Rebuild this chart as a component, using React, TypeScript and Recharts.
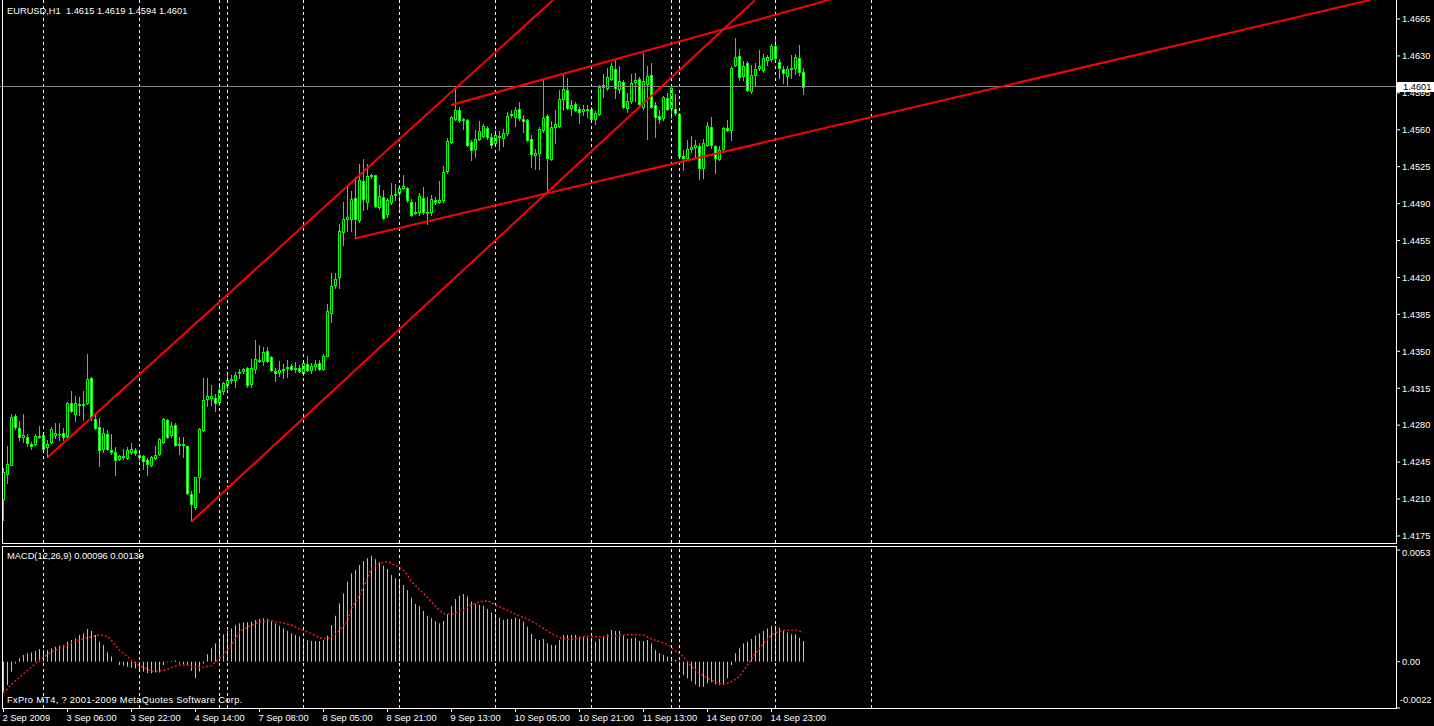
import { ComposedChart, Bar, Line, XAxis, YAxis, ReferenceLine } from "recharts";

// EURUSD H1, 2 Sep 2009 14:00 .. 15 Sep 2009, prices in pips (1.4210 -> 14210)
const OPEN_PIPS = [
  14210, 14234, 14242, 14289, 14277, 14269, 14269, 14262, 14262, 14270,
  14271, 14259, 14264, 14271, 14272, 14273, 14270, 14301, 14291, 14300,
  14299, 14301, 14325, 14286, 14278, 14257, 14272, 14256, 14255, 14248,
  14250, 14249, 14255, 14256, 14252, 14251, 14247, 14242, 14249, 14253,
  14264, 14285, 14271, 14280, 14261, 14262, 14260, 14215, 14202, 14231,
  14275, 14305, 14306, 14306, 14302, 14312, 14318, 14323, 14323, 14329,
  14331, 14334, 14319, 14333, 14342, 14341, 14350, 14345, 14331, 14330,
  14332, 14334, 14336, 14333, 14334, 14329, 14338, 14332, 14336, 14339,
  14333, 14346, 14386, 14413, 14420, 14463, 14475, 14475, 14495, 14474,
  14511, 14492, 14516, 14517, 14487, 14496, 14480, 14492, 14498, 14500,
  14505, 14505, 14492, 14481, 14482, 14495, 14482, 14482, 14493, 14492,
  14493, 14521, 14548, 14570, 14579, 14569, 14569, 14548, 14542, 14551,
  14554, 14562, 14553, 14547, 14554, 14552, 14557, 14574, 14572, 14580,
  14570, 14569, 14551, 14536, 14538, 14560, 14573, 14532, 14563, 14564,
  14589, 14598, 14581, 14584, 14580, 14578, 14580, 14580, 14570, 14575,
  14601, 14600, 14608, 14618, 14599, 14605, 14581, 14587, 14605, 14608,
  14582, 14603, 14612, 14583, 14573, 14571, 14590, 14581, 14580, 14575,
  14535, 14533, 14542, 14544, 14545, 14524, 14546, 14563, 14545, 14532,
  14542, 14562, 14560, 14621, 14630, 14611, 14623, 14597, 14612, 14619,
  14617, 14626, 14627, 14639, 14624, 14618, 14611, 14618, 14619, 14628,
  14615,
];
const HIGH_PIPS = [
  14239, 14260, 14291, 14291, 14284, 14291, 14272, 14264, 14272, 14279,
  14272, 14266, 14278, 14282, 14282, 14277, 14302, 14312, 14308, 14307,
  14312, 14347, 14326, 14291, 14287, 14277, 14275, 14272, 14259, 14252,
  14257, 14259, 14263, 14258, 14254, 14252, 14249, 14251, 14260, 14268,
  14287, 14286, 14283, 14282, 14269, 14269, 14260, 14218, 14231, 14277,
  14325, 14325, 14318, 14310, 14320, 14321, 14329, 14328, 14330, 14333,
  14334, 14335, 14343, 14361, 14356, 14354, 14354, 14346, 14334, 14341,
  14338, 14342, 14338, 14340, 14337, 14339, 14346, 14339, 14342, 14342,
  14347, 14395, 14424, 14424, 14471, 14492, 14506, 14502, 14515, 14528,
  14532, 14528, 14518, 14517, 14508, 14503, 14495, 14510, 14509, 14508,
  14517, 14506, 14494, 14492, 14500, 14506, 14496, 14498, 14496, 14511,
  14526, 14552, 14573, 14600, 14582, 14571, 14570, 14550, 14560, 14568,
  14565, 14564, 14557, 14560, 14559, 14561, 14577, 14579, 14582, 14586,
  14574, 14570, 14555, 14542, 14563, 14607, 14575, 14568, 14579, 14598,
  14612, 14609, 14588, 14586, 14582, 14583, 14583, 14582, 14578, 14602,
  14613, 14619, 14623, 14626, 14620, 14607, 14595, 14613, 14614, 14610,
  14633, 14620, 14623, 14586, 14579, 14592, 14595, 14601, 14594, 14576,
  14541, 14550, 14554, 14550, 14547, 14551, 14567, 14572, 14546, 14545,
  14563, 14569, 14620, 14647, 14637, 14625, 14625, 14621, 14623, 14636,
  14632, 14631, 14641, 14646, 14627, 14620, 14620, 14631, 14632, 14640,
  14619,
];
const LOW_PIPS = [
  14190, 14225, 14242, 14276, 14266, 14264, 14260, 14257, 14261, 14268,
  14256, 14250, 14263, 14268, 14266, 14266, 14269, 14292, 14284, 14290,
  14285, 14300, 14285, 14276, 14241, 14255, 14256, 14253, 14233, 14247,
  14248, 14248, 14253, 14252, 14247, 14238, 14233, 14241, 14248, 14252,
  14263, 14268, 14269, 14260, 14253, 14250, 14215, 14189, 14201, 14217,
  14274, 14298, 14299, 14293, 14299, 14310, 14315, 14320, 14316, 14325,
  14329, 14316, 14316, 14329, 14340, 14337, 14340, 14331, 14322, 14327,
  14325, 14326, 14332, 14330, 14330, 14328, 14331, 14329, 14332, 14332,
  14332, 14346, 14378, 14410, 14410, 14451, 14464, 14464, 14457, 14473,
  14484, 14485, 14514, 14487, 14485, 14475, 14477, 14490, 14493, 14485,
  14504, 14492, 14478, 14480, 14479, 14480, 14471, 14479, 14490, 14491,
  14492, 14519, 14547, 14569, 14567, 14561, 14545, 14531, 14534, 14550,
  14553, 14551, 14543, 14545, 14541, 14545, 14555, 14572, 14564, 14569,
  14558, 14549, 14525, 14523, 14523, 14558, 14500, 14531, 14547, 14563,
  14579, 14580, 14574, 14578, 14566, 14574, 14572, 14569, 14565, 14574,
  14591, 14598, 14607, 14590, 14595, 14581, 14577, 14585, 14587, 14582,
  14580, 14551, 14581, 14553, 14566, 14569, 14579, 14571, 14574, 14534,
  14522, 14531, 14539, 14533, 14513, 14514, 14545, 14543, 14519, 14531,
  14541, 14559, 14550, 14620, 14607, 14607, 14597, 14595, 14602, 14617,
  14615, 14621, 14625, 14626, 14609, 14604, 14602, 14609, 14613, 14612,
  14594,
];
const CLOSE_PIPS = [
  14236, 14243, 14288, 14278, 14269, 14271, 14263, 14260, 14270, 14269,
  14257, 14262, 14276, 14273, 14272, 14269, 14301, 14293, 14301, 14299,
  14300, 14324, 14288, 14277, 14256, 14273, 14257, 14255, 14247, 14251,
  14251, 14256, 14257, 14254, 14250, 14246, 14243, 14250, 14252, 14267,
  14286, 14269, 14279, 14261, 14262, 14261, 14216, 14205, 14231, 14276,
  14304, 14308, 14308, 14301, 14313, 14320, 14323, 14324, 14328, 14330,
  14333, 14318, 14334, 14343, 14341, 14349, 14341, 14332, 14329, 14332,
  14333, 14335, 14333, 14334, 14331, 14339, 14332, 14336, 14338, 14333,
  14346, 14388, 14412, 14419, 14464, 14475, 14477, 14494, 14475, 14512,
  14494, 14516, 14517, 14488, 14497, 14476, 14493, 14498, 14499, 14505,
  14507, 14493, 14479, 14482, 14497, 14482, 14481, 14494, 14492, 14493,
  14520, 14549, 14572, 14579, 14569, 14570, 14546, 14541, 14551, 14559,
  14564, 14553, 14546, 14555, 14553, 14557, 14573, 14575, 14579, 14571,
  14568, 14550, 14537, 14538, 14561, 14571, 14533, 14563, 14565, 14589,
  14599, 14581, 14583, 14579, 14577, 14580, 14579, 14570, 14576, 14601,
  14602, 14610, 14620, 14600, 14606, 14582, 14587, 14604, 14607, 14584,
  14606, 14611, 14582, 14572, 14570, 14591, 14580, 14600, 14576, 14535,
  14533, 14542, 14544, 14546, 14524, 14547, 14564, 14546, 14533, 14541,
  14562, 14560, 14619, 14629, 14610, 14620, 14598, 14612, 14618, 14620,
  14628, 14629, 14639, 14628, 14619, 14614, 14618, 14619, 14629, 14615,
  14601,
];

// MACD(12,26,9) main line, in units of 0.00001
const MACD_E5 = [
  -142, -111, -47, -8, 16, 32, 40, 44, 51, 60,
  57, 55, 63, 71, 76, 79, 95, 103, 111, 127,
  134, 155, 146, 127, 95, 79, 44, 24, 0, -16,
  -19, -24, -28, -32, -35, -47, -55, -55, -52, -51,
  -16, -3, 3, 6, -8, -11, -16, -44, -79, -47,
  -8, 35, 63, 87, 111, 130, 146, 158, 174, 182,
  187, 187, 190, 198, 203, 206, 203, 193, 182, 171,
  158, 146, 134, 127, 119, 111, 103, 98, 98, 98,
  103, 123, 174, 218, 277, 324, 380, 419, 435, 459,
  478, 491, 503, 487, 472, 456, 440, 411, 396, 388,
  364, 340, 304, 274, 264, 241, 218, 206, 193, 182,
  193, 225, 264, 297, 313, 321, 309, 285, 274, 269,
  266, 250, 233, 226, 209, 198, 203, 203, 209, 203,
  190, 166, 131, 108, 103, 108, 87, 79, 79, 103,
  127, 127, 127, 127, 119, 119, 114, 114, 95, 108,
  119, 130, 150, 146, 146, 123, 108, 111, 114, 98,
  98, 103, 87, 55, 40, 32, 24, 8, 8, -44,
  -63, -79, -92, -108, -119, -119, -103, -98, -108, -111,
  -108, -79, -16, 40, 63, 87, 95, 108, 123, 134,
  146, 158, 171, 171, 161, 146, 139, 130, 130, 114,
  98,
];

// signal line, read at these bars (units of 0.00001)
const SIGNAL_BARS = [
  0, 2, 4, 9, 12, 14, 17, 19, 22, 24, 26, 27, 29, 31, 32, 34, 36, 37, 39, 41,
  42, 44, 46, 47, 49, 52, 53, 55, 57, 59, 62, 64, 67, 69, 72, 74, 77, 79, 81, 83,
  86, 87, 89, 91, 92, 94, 96, 98, 100, 101, 102, 105, 107, 108, 110, 112, 115, 117, 119, 121,
  123, 125, 127, 129, 131, 133, 135, 137, 139, 141, 143, 145, 147, 149, 151, 153, 156, 160, 162, 164,
  166, 168, 170, 172, 174, 176, 178, 180, 182, 184, 186, 188, 190, 192, 194, 196, 198, 200,
];
const SIGNAL_E5 = [
  -150, -108, -74, 8, 47, 63, 87, 103, 119, 127, 120, 100, 55, 24, 5, -19, -35, -47, -44, -38,
  -28, -16, -16, -24, -28, -19, 0, 32, 79, 142, 174, 190, 193, 187, 174, 155, 134, 114, 108, 130,
  190, 253, 316, 396, 443, 467, 475, 459, 435, 411, 380, 324, 285, 261, 229, 225, 245, 269, 285, 290,
  269, 253, 234, 217, 203, 182, 158, 134, 114, 106, 108, 119, 120, 117, 122, 123, 128, 127, 108, 95,
  82, 51, 24, -24, -55, -79, -98, -108, -95, -71, -16, 40, 87, 127, 146, 150, 150, 139,
];

const PRICE_TICKS = [
  1.4175, 1.421, 1.4245, 1.428, 1.4315, 1.435, 1.4385, 1.442, 1.4455, 1.449,
  1.4525, 1.456, 1.4595, 1.463, 1.4665,
];
const MACD_TICKS = [0.0053, 0, -0.0022];
const MACD_TICK_LABELS = ["0.0053", "0.00", "-0.0022"];

const TIME_TICK_BARS = [0, 16, 32, 48, 64, 80, 96, 112, 128, 144, 160, 176, 192];
const TIME_LABELS = [
  "2 Sep 2009", "3 Sep 06:00", "3 Sep 22:00", "4 Sep 14:00", "7 Sep 08:00",
  "8 Sep 05:00", "8 Sep 21:00", "9 Sep 13:00", "10 Sep 05:00", "10 Sep 21:00",
  "11 Sep 13:00", "14 Sep 07:00", "14 Sep 23:00",
];

// day separators (bar index of midnight)
const SEPARATOR_BARS = [10, 34, 54, 56, 75, 99, 123, 147, 167, 169, 193, 217];

// red trend lines: [bar, price] start and end
const TREND_LINES = [
  [[11.05, 1.42496], [137.4, 1.4683]],
  [[47.05, 1.41887], [187.9, 1.4683]],
  [[111.9, 1.45835], [206.3, 1.4683]],
  [[88.0, 1.44571], [341.6, 1.4683]],
];

const LAST_OHLC = [1.4615, 1.4619, 1.4594, 1.4601];
const MACD_LAST = [0.00096, 0.00139];

const X_DOMAIN = [-0.875, 348.125];
const PRICE_DOMAIN = [1.41683, 1.4683];
const MACD_DOMAIN = [-0.0022, 0.005445];

const FONT = "'Liberation Sans', Arial, sans-serif";
const FS = 9.3;
const LIME = "#00ff00";

const candles = OPEN_PIPS.map((o, i) => ({
  bar: i,
  open: o / 1e4,
  high: HIGH_PIPS[i] / 1e4,
  low: LOW_PIPS[i] / 1e4,
  close: CLOSE_PIPS[i] / 1e4,
  range: [LOW_PIPS[i] / 1e4, HIGH_PIPS[i] / 1e4],
}));

const macdData = MACD_E5.map((m, i) => {
  const k = SIGNAL_BARS.indexOf(i);
  return { bar: i, macd: m / 1e5, signal: k >= 0 ? SIGNAL_E5[k] / 1e5 : null };
});

function Candle(props: any) {
  const { x, y, width, height, payload } = props;
  if (payload == null || height == null) return null;
  const top = Math.min(y, y + height);
  const h = Math.abs(height);
  const { open, high, low, close } = payload;
  const k = high > low ? h / (high - low) : 0;
  const cx = Math.floor(x + width / 2 + 0.25) + 0.5;
  const yo = top + (high - open) * k;
  const yc = top + (high - close) * k;
  const bt = Math.round(Math.min(yo, yc)) + 0.5;
  const bb = Math.round(Math.max(yo, yc)) + 0.5;
  return (
    <g>
      <line x1={cx} x2={cx} y1={Math.round(top)} y2={Math.round(top + h) + 1} stroke={LIME} />
      {bb - bt >= 1 ? (
        <rect x={cx - 1} y={bt} width={2} height={bb - bt} fill={close >= open ? "#000" : "#fff"} stroke={LIME} />
      ) : (
        <line x1={cx - 1.5} x2={cx + 1.5} y1={bt} y2={bt} stroke={LIME} />
      )}
    </g>
  );
}

function HistBar(props: any) {
  const { x, y, width, height } = props;
  if (height == null || height === 0) return null;
  const left = Math.floor(x + width / 2 + 0.25);
  return <rect x={left} y={Math.min(y, y + height)} width={1} height={Math.abs(height)} fill="#c0c0c0" />;
}

function PriceTag(props: any) {
  const vb = props.viewBox;
  if (!vb) return null;
  const x = vb.x + vb.width;
  const y = vb.y;
  return (
    <g>
      <rect x={x + 1} y={Math.round(y) - 5} width={37} height={10} fill="#fff" />
      <text x={x + 7} y={y} dy="0.355em" fill="#000" fontSize={FS} fontFamily={FONT}>
        {props.text}
      </text>
    </g>
  );
}

function MacdTick(props: any) {
  const { x, y, payload } = props;
  const i = MACD_TICKS.indexOf(payload.value);
  const shift = i === 0 ? 2.5 : i === 2 ? -8 : 0;
  return (
    <text x={i === 2 ? x - 2 : x} y={y + shift} dy="0.355em" fill="#fff" fontSize={FS} fontFamily={FONT} textAnchor="start">
      {MACD_TICK_LABELS[i]}
    </text>
  );
}

function TimeTick(props: any) {
  const { x, y, payload } = props;
  const i = TIME_TICK_BARS.indexOf(payload.value);
  return (
    <text x={x - 1} y={y} dy="0.71em" fill="#fff" fontSize={FS} fontFamily={FONT} textAnchor="start">
      {TIME_LABELS[i]}
    </text>
  );
}

const textStyle = {
  position: "absolute" as const,
  left: 7,
  color: "#fff",
  fontFamily: FONT,
  fontSize: FS,
  lineHeight: "10px",
  whiteSpace: "pre" as const,
};

export default function App() {
  const last = LAST_OHLC[3];
  return (
    <div style={{ position: "absolute", left: 0, top: 0, width: 1434, height: 726, background: "#000", overflow: "hidden" }}>
      <ComposedChart
        width={1434}
        height={543}
        data={candles}
        margin={{ top: 0, right: 0, bottom: 0, left: 0 }}
        style={{ position: "absolute", left: 0, top: 0 }}
      >
        <XAxis type="number" dataKey="bar" domain={X_DOMAIN} ticks={TIME_TICK_BARS} allowDataOverflow hide />
        <YAxis
          orientation="right"
          width={38}
          domain={PRICE_DOMAIN}
          ticks={PRICE_TICKS}
          allowDataOverflow
          interval={0}
          axisLine={false}
          tickSize={4}
          tickLine={{ stroke: "#fff" }}
          tick={{ fill: "#fff", fontSize: FS, fontFamily: FONT }}
          tickFormatter={(v: number) => v.toFixed(4)}
        />
        {SEPARATOR_BARS.map((b) => (
          <ReferenceLine key={"s" + b} x={b} stroke="#fff" strokeDasharray="3 3" />
        ))}
        <ReferenceLine y={last} stroke="#8a8a8a" label={<PriceTag text={last.toFixed(4)} />} />
        <Bar dataKey="range" barSize={3} shape={<Candle />} isAnimationActive={false} />
        {TREND_LINES.map((seg, i) => (
          <ReferenceLine
            key={"t" + i}
            segment={[{ x: seg[0][0], y: seg[0][1] }, { x: seg[1][0], y: seg[1][1] }]}
            stroke="#ff0000"
            strokeWidth={2}
            ifOverflow="hidden"
          />
        ))}
      </ComposedChart>

      <ComposedChart
        width={1434}
        height={179}
        data={macdData}
        margin={{ top: 0, right: 0, bottom: 0, left: 0 }}
        style={{ position: "absolute", left: 0, top: 547 }}
      >
        <XAxis
          type="number"
          dataKey="bar"
          domain={X_DOMAIN}
          ticks={TIME_TICK_BARS}
          interval={0}
          allowDataOverflow
          height={18}
          axisLine={false}
          tickSize={4}
          tickLine={{ stroke: "#fff" }}
          tick={<TimeTick />}
        />
        <YAxis
          orientation="right"
          width={38}
          domain={MACD_DOMAIN}
          ticks={MACD_TICKS}
          allowDataOverflow
          interval={0}
          axisLine={false}
          tickSize={4}
          tickLine={{ stroke: "#fff" }}
          tick={<MacdTick />}
        />
        {SEPARATOR_BARS.map((b) => (
          <ReferenceLine key={"m" + b} x={b} stroke="#fff" strokeDasharray="3 3" />
        ))}
        <Bar dataKey="macd" barSize={1} shape={<HistBar />} isAnimationActive={false} />
        <Line
          dataKey="signal"
          type="linear"
          connectNulls
          dot={false}
          stroke="#ff1a1a"
          strokeWidth={1.4}
          strokeDasharray="2 2"
          isAnimationActive={false}
        />
      </ComposedChart>

      {/* window frames */}
      <div style={{ position: "absolute", left: 2, top: -1, width: 1395, height: 545, border: "1px solid #fff", boxSizing: "border-box", pointerEvents: "none" }} />
      <div style={{ position: "absolute", left: 2, top: 546, width: 1395, height: 163, border: "1px solid #fff", boxSizing: "border-box", pointerEvents: "none" }} />

      <div style={{ ...textStyle, top: 6 }}>
        {"EURUSD,H1  " + LAST_OHLC.map((v) => v.toFixed(4)).join(" ")}
      </div>
      <div style={{ ...textStyle, top: 551 }}>
        {"MACD(12,26,9) " + MACD_LAST.map((v) => v.toFixed(5)).join(" ")}
      </div>
      <div style={{ ...textStyle, top: 695, letterSpacing: "0.3px" }}>
        FxPro MT4, ? 2001-2009 MetaQuotes Software Corp.
      </div>
    </div>
  );
}
